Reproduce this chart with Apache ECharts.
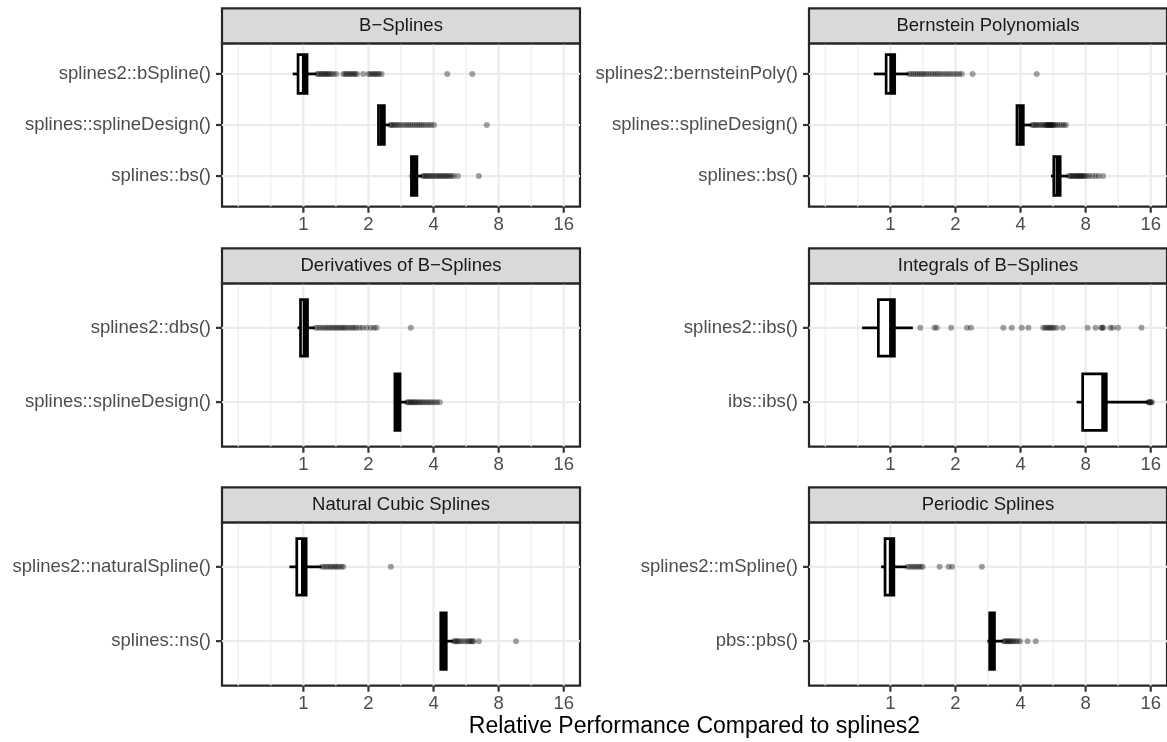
<!DOCTYPE html>
<html><head><meta charset="utf-8">
<script src="https://cdn.jsdelivr.net/npm/echarts@6/dist/echarts.min.js"></script>
<style>html,body{margin:0;padding:0;background:#fff}#c{width:1167px;height:742px}</style>
</head><body><div id="c"></div>
<script>
// ---------- data ----------
const panelTitles = ['B\u2212Splines', 'Bernstein Polynomials', 'Derivatives of B\u2212Splines',
  'Integrals of B\u2212Splines', 'Natural Cubic Splines', 'Periodic Splines'];
const xTickValues = [1, 2, 4, 8, 16];
const xMinorValues = [0.5, 0.7071, 1.4142, 2.8284, 5.6569, 11.3137];
const xAxisTitle = 'Relative Performance Compared to splines2';

// categories listed top to bottom
const catsBSplines = ['splines2::bSpline()', 'splines::splineDesign()', 'splines::bs()'];
const catsBernstein = ['splines2::bernsteinPoly()', 'splines::splineDesign()', 'splines::bs()'];
const catsDerivs = ['splines2::dbs()', 'splines::splineDesign()'];
const catsIntegrals = ['splines2::ibs()', 'ibs::ibs()'];
const catsNatural = ['splines2::naturalSpline()', 'splines::ns()'];
const catsPeriodic = ['splines2::mSpline()', 'pbs::pbs()'];

// box stats: [lower whisker, Q1, median, Q3, upper whisker]
const boxBSplines = [[0.893, 0.945, 1.012, 1.04, 1.153], [2.22, 2.225, 2.32, 2.37, 2.51], [3.1, 3.16, 3.26, 3.35, 3.55]];
const boxBernstein = [[0.838, 0.956, 1.016, 1.047, 1.215], [3.82, 3.85, 4.02, 4.12, 4.5], [5.53, 5.7, 5.97, 6.1, 6.65]];
const boxDerivs = [[0.94, 0.97, 1.02, 1.045, 1.13], [2.64, 2.65, 2.73, 2.8, 3.0]];
const boxIntegrals = [[0.74, 0.88, 1.014, 1.044, 1.27], [7.27, 7.75, 9.71, 9.97, 15.55]];
const boxNatural = [[0.862, 0.932, 1.002, 1.03, 1.215], [4.3, 4.32, 4.45, 4.58, 4.95]];
const boxPeriodic = [[0.906, 0.945, 1.011, 1.038, 1.19], [2.81, 2.88, 2.96, 3.03, 3.33]];

// outliers per category
const outBSplines = [
  [1.16, 1.18, 1.2, 1.22, 1.24, 1.26, 1.28, 1.3, 1.32, 1.35, 1.38, 1.42, 1.53, 1.56, 1.59, 1.62, 1.65, 1.68, 1.71, 1.74, 1.77, 1.89, 2.0, 2.04, 2.08, 2.12, 2.16, 2.2, 2.24, 2.3, 4.63, 6.04],
  [2.52, 2.56, 2.6, 2.65, 2.7, 2.76, 2.82, 2.9, 2.98, 3.05, 3.12, 3.2, 3.28, 3.36, 3.44, 3.52, 3.6, 3.7, 3.8, 3.9, 4.02, 7.05],
  [3.57, 3.62, 3.68, 3.74, 3.8, 3.87, 3.94, 4.02, 4.1, 4.18, 4.26, 4.34, 4.42, 4.5, 4.58, 4.66, 4.75, 4.85, 4.95, 5.18, 6.48]
];
const outBernstein = [
  [1.22, 1.25, 1.28, 1.31, 1.34, 1.37, 1.4, 1.43, 1.46, 1.5, 1.54, 1.58, 1.62, 1.66, 1.7, 1.75, 1.8, 1.85, 1.9, 1.96, 2.02, 2.08, 2.14, 2.4, 4.75],
  [4.52, 4.6, 4.68, 4.76, 4.85, 4.95, 5.05, 5.15, 5.22, 5.28, 5.33, 5.38, 5.43, 5.48, 5.53, 5.58, 5.63, 5.7, 5.78, 5.9, 6.05, 6.2, 6.35, 6.49],
  [6.7, 6.8, 6.9, 7.0, 7.1, 7.2, 7.3, 7.4, 7.5, 7.6, 7.7, 7.8, 7.9, 8.1, 8.3, 8.6, 8.9, 9.2, 9.64]
];
const outDerivs = [
  [1.14, 1.17, 1.2, 1.23, 1.26, 1.29, 1.32, 1.35, 1.38, 1.41, 1.44, 1.47, 1.5, 1.53, 1.56, 1.6, 1.64, 1.68, 1.72, 1.76, 1.82, 1.88, 1.96, 2.05, 2.12, 2.18, 3.14],
  [3.02, 3.06, 3.1, 3.15, 3.2, 3.25, 3.3, 3.36, 3.42, 3.48, 3.55, 3.62, 3.7, 3.78, 3.86, 3.95, 4.05, 4.15, 4.27]
];
const outIntegrals = [
  [1.375, 1.6, 1.64, 1.91, 2.26, 2.36, 3.33, 3.64, 4.05, 4.35, 5.09, 5.2, 5.3, 5.4, 5.5, 5.6, 5.7, 5.88, 6.27, 8.17, 8.9, 9.45, 9.55, 9.65, 10.4, 10.7, 11.3, 14.5],
  [15.6, 15.75, 15.9, 16.05, 16.2]
];
const outNatural = [
  [1.22, 1.25, 1.28, 1.31, 1.34, 1.37, 1.4, 1.43, 1.46, 1.5, 1.53, 2.54],
  [4.97, 5.05, 5.12, 5.2, 5.3, 5.45, 5.6, 5.75, 5.85, 5.95, 6.05, 6.12, 6.48, 9.63]
];
const outPeriodic = [
  [1.2, 1.23, 1.26, 1.29, 1.32, 1.35, 1.38, 1.41, 1.69, 1.86, 1.93, 2.65],
  [3.35, 3.4, 3.45, 3.5, 3.55, 3.6, 3.66, 3.72, 3.8, 3.88, 3.98, 4.31, 4.7]
];

// ---------- assembly ----------
const panelCats = [catsBSplines, catsBernstein, catsDerivs, catsIntegrals, catsNatural, catsPeriodic];
const panelBoxes = [boxBSplines, boxBernstein, boxDerivs, boxIntegrals, boxNatural, boxPeriodic];
const panelOut = [outBSplines, outBernstein, outDerivs, outIntegrals, outNatural, outPeriodic];

const FONT = "'Liberation Sans', Arial, Helvetica, sans-serif";
const colLeft = [222, 809];
const panelW = 358;
const rowTop = [43.3, 283.3, 522.3];
const panelH = 163.4;
const stripH = 35;
const lw = 2.2;   // frame / grid
const blw = 2.7;  // box & whiskers
const tickLen = 6;
const XMIN = -1.25, XMAX = 4.25;
const FRAME = '#262626';

const grids = [], xAxes = [], yAxes = [], series = [], graphics = [];

// kinds: 0 major vertical grid, 1 minor vertical grid, 2 horizontal grid
function renderGridLine(params, api) {
  const cs = params.coordSys;
  const kind = api.value(0);
  const p = api.coord([api.value(1), api.value(2)]);
  if (kind === 0 || kind === 1) {
    return { type: 'line', silent: true, shape: { x1: p[0], y1: cs.y, x2: p[0], y2: cs.y + cs.height },
      style: { stroke: '#EBEBEB', lineWidth: kind === 0 ? lw : lw / 2 } };
  }
  return { type: 'line', silent: true, shape: { x1: cs.x, y1: p[1], x2: cs.x + cs.width, y2: p[1] },
    style: { stroke: '#EBEBEB', lineWidth: lw } };
}

function renderBox(params, api) {
  const y = api.value(0);
  const lo = api.coord([api.value(1), y]);
  const q1 = api.coord([api.value(2), y]);
  const md = api.coord([api.value(3), y]);
  const q3 = api.coord([api.value(4), y]);
  const hi = api.coord([api.value(5), y]);
  const h = api.size([0, 0.76])[1];
  const cy = lo[1];
  const st = { stroke: '#000', lineWidth: blw };
  return { type: 'group', children: [
    { type: 'line', shape: { x1: lo[0], y1: cy, x2: q1[0], y2: cy }, style: st },
    { type: 'line', shape: { x1: q3[0], y1: cy, x2: hi[0], y2: cy }, style: st },
    { type: 'rect', shape: { x: q1[0], y: cy - h / 2, width: q3[0] - q1[0], height: h },
      style: { fill: '#fff', stroke: '#000', lineWidth: blw } },
    { type: 'line', shape: { x1: md[0], y1: cy - h / 2, x2: md[0], y2: cy + h / 2 },
      style: { stroke: '#000', lineWidth: blw * 1.9 } }
  ] };
}

for (let i = 0; i < 6; i++) {
  const col = i % 2, row = Math.floor(i / 2);
  const cats = panelCats[i];
  const n = cats.length;
  const left = colLeft[col], top = rowTop[row];
  grids.push({ left: left, top: top, width: panelW, height: panelH, show: true,
    borderColor: FRAME, borderWidth: lw, backgroundColor: 'transparent', containLabel: false });
  const xt = xTickValues.map(v => Math.log2(v));
  xAxes.push({ type: 'value', gridIndex: i, min: XMIN, max: XMAX, position: 'bottom',
    axisLine: { show: false, onZero: false }, splitLine: { show: false }, axisTick: { show: false },
    axisLabel: { show: true, customValues: xt, formatter: v => String(Math.round(Math.pow(2, v))),
      color: '#4D4D4D', fontSize: 18.5, fontFamily: FONT, margin: 9 } });
  const yt = cats.map((c, k) => k + 1);
  yAxes.push({ type: 'value', gridIndex: i, min: 0.4, max: n + 0.6, inverse: true, position: 'left',
    axisLine: { show: false, onZero: false }, splitLine: { show: false }, axisTick: { show: false },
    axisLabel: { show: true, customValues: yt, formatter: v => cats[Math.round(v) - 1] || '',
      color: '#4D4D4D', fontSize: 18.5, fontFamily: FONT, margin: 11 } });

  // grid lines
  const gl = [];
  xMinorValues.forEach(v => gl.push([1, Math.log2(v), 1]));
  xTickValues.forEach(v => gl.push([0, Math.log2(v), 1]));
  yt.forEach(v => gl.push([2, XMIN, v]));
  series.push({ type: 'custom', xAxisIndex: i, yAxisIndex: i, z: 1, silent: true,
    renderItem: renderGridLine, encode: { x: 1, y: 2 }, data: gl });

  // boxes
  const bd = panelBoxes[i].map((b, k) => [k + 1].concat(b.map(v => Math.log2(v))));
  series.push({ type: 'custom', xAxisIndex: i, yAxisIndex: i, z: 3, silent: true,
    renderItem: renderBox, encode: { x: [1, 2, 3, 4, 5], y: 0 }, data: bd });

  // outliers
  const od = [];
  panelOut[i].forEach((arr, k) => arr.forEach(v => od.push([Math.log2(v), k + 1])));
  series.push({ type: 'scatter', xAxisIndex: i, yAxisIndex: i, z: 4, silent: true,
    symbol: 'circle', symbolSize: 6, itemStyle: { color: 'rgba(0,0,0,0.45)' }, data: od });

  // strip
  graphics.push({ type: 'rect', shape: { x: left, y: top - stripH, width: panelW, height: stripH },
    style: { fill: '#D9D9D9', stroke: FRAME, lineWidth: lw }, z: 10 });
  graphics.push({ type: 'text', x: left + panelW / 2, y: top - stripH / 2, z: 11,
    style: { text: panelTitles[i], fill: '#1A1A1A', font: '18.5px ' + FONT, align: 'center', verticalAlign: 'middle' } });
}

graphics.push({ type: 'text', x: colLeft[0] + (colLeft[1] + panelW - colLeft[0]) / 2, y: 727, z: 11,
  style: { text: xAxisTitle, fill: '#000', font: '23px ' + FONT, align: 'center', verticalAlign: 'middle' } });

const chart = echarts.init(document.getElementById('c'), null, { renderer: 'canvas' });
chart.setOption({
  animation: false,
  backgroundColor: '#fff',
  grid: grids, xAxis: xAxes, yAxis: yAxes, series: series
});

// axis ticks, positioned through the chart's own axis scales
for (let i = 0; i < 6; i++) {
  const n = panelCats[i].length;
  const finder = { xAxisIndex: i, yAxisIndex: i };
  xTickValues.forEach(v => {
    const p = chart.convertToPixel(finder, [Math.log2(v), n + 0.6]);
    graphics.push({ type: 'line', z: 12, silent: true,
      shape: { x1: p[0], y1: p[1], x2: p[0], y2: p[1] + tickLen },
      style: { stroke: '#333333', lineWidth: lw } });
  });
  panelCats[i].forEach((c, k) => {
    const p = chart.convertToPixel(finder, [XMIN, k + 1]);
    graphics.push({ type: 'line', z: 12, silent: true,
      shape: { x1: p[0] - tickLen, y1: p[1], x2: p[0], y2: p[1] },
      style: { stroke: '#333333', lineWidth: lw } });
  });
}
chart.setOption({ graphic: graphics });
</script></body></html>
